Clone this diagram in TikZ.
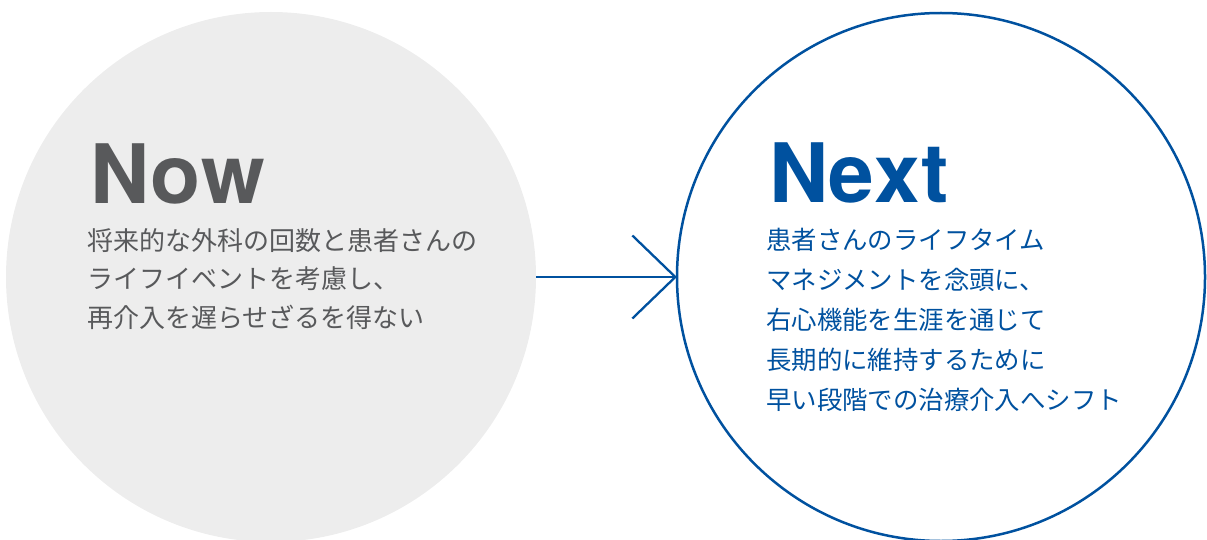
\documentclass[tikz,border=0pt]{standalone}
\usepackage{fontspec}
\setmainfont{TeX Gyre Heros}
\newfontfamily\jp{Noto Sans CJK JP}
\usetikzlibrary{arrows.meta}
\definecolor{nowgray}{HTML}{58595B}
\definecolor{circgray}{HTML}{EDEDED}
\definecolor{nextblue}{HTML}{00519F}
\tikzset{
  title/.style={anchor=base west, inner sep=0pt, font=\fontsize{82}{82}\selectfont\bfseries},
  jline/.style={anchor=base west, inner sep=0pt},
}
\begin{document}
\begin{tikzpicture}[x=1pt,y=-1pt]
\useasboundingbox (0,0) rectangle (1207,540);
\node[circle, fill=circgray, minimum size=530pt, inner sep=0pt] (nowc) at (271,277) {};
\node[circle, draw=nextblue, line width=2.5pt, minimum size=528pt, inner sep=0pt, outer sep=0pt] (nextc) at (941,277) {};
\draw[nextblue, line width=2.3pt, -{Straight Barb[length=43pt, width=83pt, line width=2.3pt]}] (nowc.east) -- (nextc.west);
% Now
\node[title, text=nowgray] (nowt) at (90,204) {N\kern1pt o\kern1pt w};
\begin{scope}[text=nowgray, font=\jp\fontsize{26}{26}\selectfont]
\node[jline] (n1) at (87,250) {将来的な外科の回数と患者さんの};
\node[jline] (n2) at (87,288.5) {ライフイベントを考慮し、};
\node[jline] (n3) at (87,327) {再介入を遅らせざるを得ない};
\end{scope}
% Next
\node[title, text=nextblue] (nextt) at (769,203) {N\kern0.5pt e\kern0.5pt x\kern0.5pt t};
\begin{scope}[text=nextblue, font=\jp\fontsize{25.4}{25.4}\selectfont]
\node[jline] (x1) at (766,249) {患者さんのライフタイム};
\node[jline] (x2) at (766,289) {マネジメントを念頭に、};
\node[jline] (x3) at (766,329) {右心機能を生涯を通じて};
\node[jline] (x4) at (766,369) {長期的に維持するために};
\node[jline] (x5) at (766,409) {早い段階での治療介入へシフト};
\end{scope}
\end{tikzpicture}
\end{document}
